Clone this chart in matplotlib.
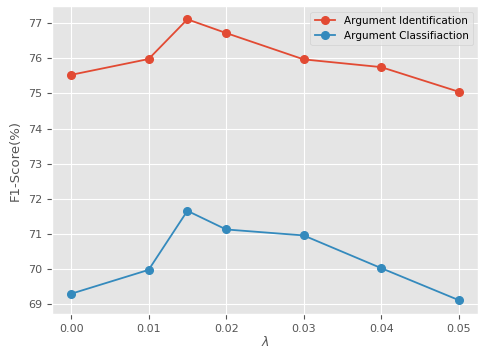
import matplotlib
matplotlib.use("Agg")
import matplotlib.pyplot as plt

plt.style.use("ggplot")

lambdas = [0.00, 0.01, 0.015, 0.02, 0.03, 0.04, 0.05]
ident = [75.53, 75.98, 77.11, 76.72, 75.97, 75.75, 75.05]
classif = [69.30, 69.98, 71.66, 71.13, 70.96, 70.03, 69.12]
xticks = [0.00, 0.01, 0.02, 0.03, 0.04, 0.05]
yticks = [69, 70, 71, 72, 73, 74, 75, 76, 77]

fig, ax = plt.subplots(figsize=(4.79, 3.51), dpi=100)
ax.plot(lambdas, ident, marker="o", markersize=5.5, linewidth=1.3,
        label="Argument Identification", color="#E24A33")
ax.plot(lambdas, classif, marker="o", markersize=5.5, linewidth=1.3,
        label="Argument Classifiaction", color="#348ABD")
ax.set_xticks(xticks)
ax.set_xticklabels([f"{v:.2f}" for v in xticks])
ax.set_yticks(yticks)
ax.set_ylim(68.72, 77.48)
ax.set_xlabel(r"$\lambda$", fontsize=9, labelpad=1)
ax.set_ylabel("F1-Score(%)", fontsize=9.5)
ax.tick_params(labelsize=8)
ax.legend(loc="upper right", fontsize=7.5)
fig.subplots_adjust(left=0.108, right=0.998, top=0.982, bottom=0.105)
fig.savefig("out.png")
